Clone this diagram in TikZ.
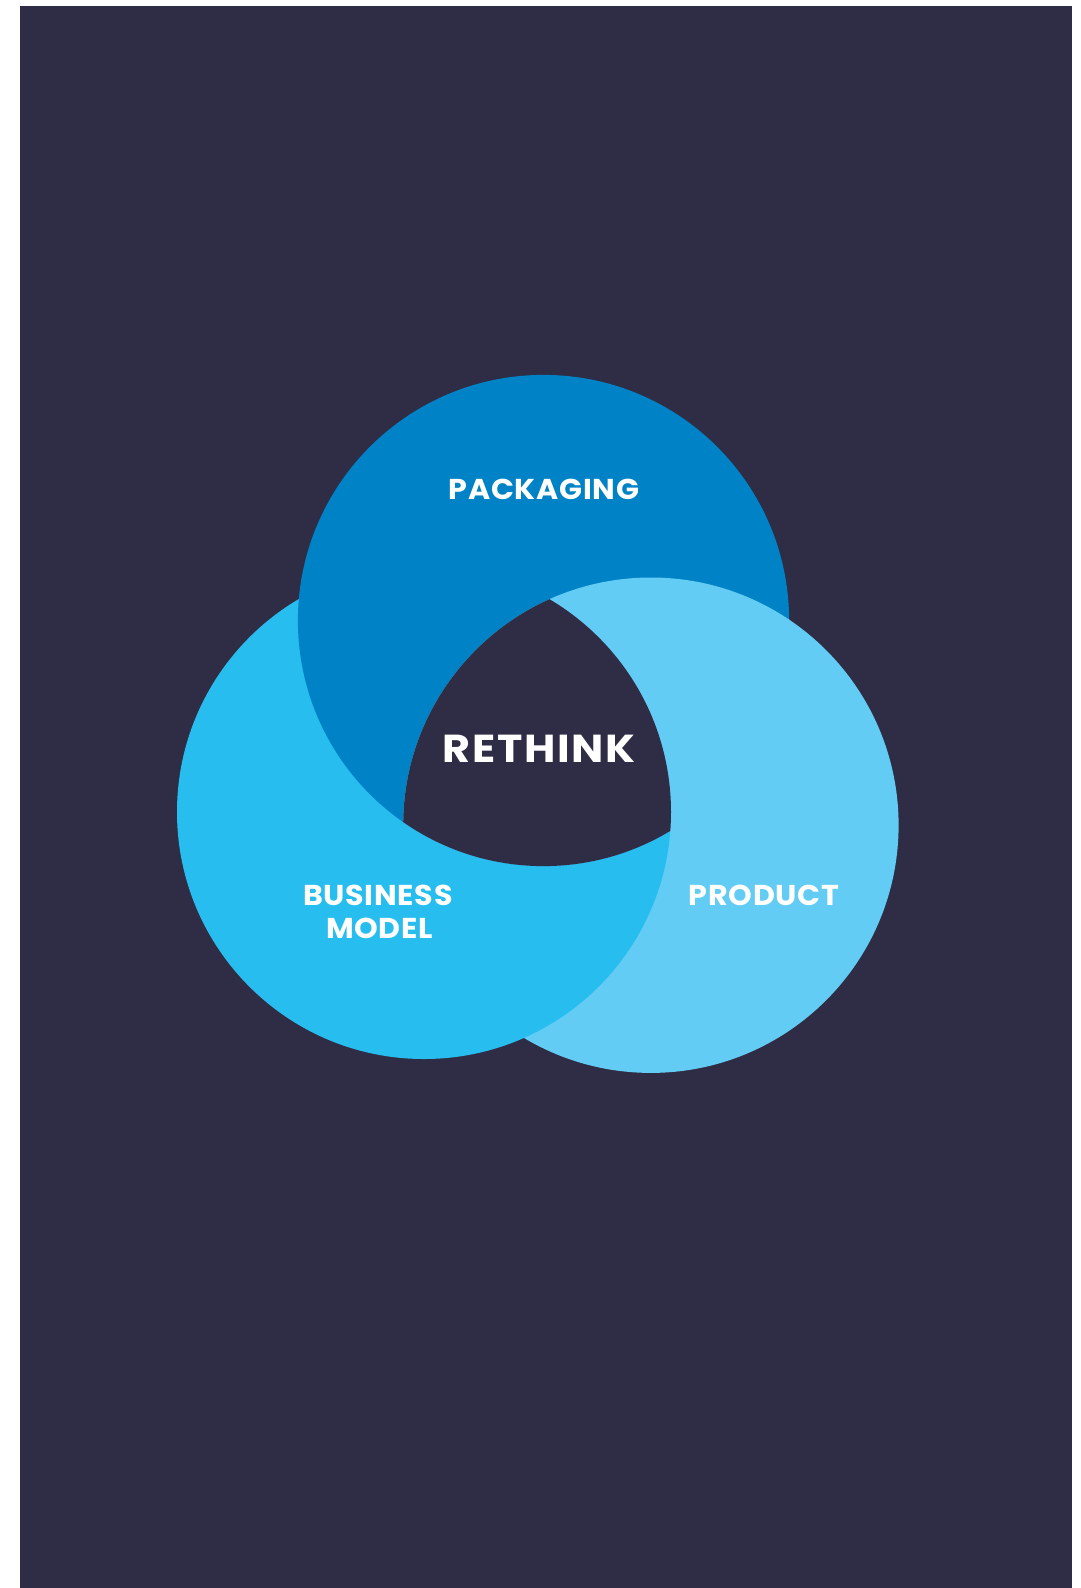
\documentclass[tikz,border=0pt]{standalone}
\usepackage{fontspec}
\setmainfont{Poppins}
\newfontfamily\lblfont{Poppins}[FakeStretch=1.05,LetterSpace=2.5]
\newfontfamily\bigfont{Poppins}[FakeStretch=1.1,LetterSpace=4.5]
\definecolor{bgc}{HTML}{2F2C45}
\definecolor{packc}{HTML}{0083C6}
\definecolor{busc}{HTML}{28BDEF}
\definecolor{prodc}{HTML}{63CCF4}
\begin{document}
\begin{tikzpicture}[x=1pt,y=-1pt,
  lbl/.style={text=white,font=\lblfont\bfseries\fontsize{28.7}{32.5}\selectfont,anchor=base,align=center,inner sep=0pt},
  big/.style={text=white,font=\bigfont\bfseries\fontsize{39}{44}\selectfont,anchor=base,inner sep=0pt}]
\fill[white] (0,0) rectangle (1081,1588);
\useasboundingbox (0,0) rectangle (1081,1588);
\fill[bgc] (20,6) rectangle (1072,1588);
\def\packpath{(543.5,620.5) circle[radius=245.6pt]}
\def\buspath{(424,812) circle[radius=247pt]}
\def\prodpath{(650.9,825.2) circle[radius=247.7pt]}
\fill[prodc] \prodpath;
\fill[busc] \buspath;
\fill[packc] \packpath;
\begin{scope}
  \clip \prodpath;
  \fill[prodc] \packpath;
\end{scope}
\begin{scope}[even odd rule]
  \clip \prodpath;
  \clip (0,0) rectangle (1081,1588) \buspath;
  \draw[prodc,line width=1.6pt] \packpath;
\end{scope}
\begin{scope}
  \clip \prodpath;
  \clip \buspath;
  \fill[bgc] \packpath;
\end{scope}
\node[lbl] (packaging) at (544,499.3) {PACKAGING};
\node[big] (rethink) at (539,762) {RETHINK};
\node[lbl] (business) at (378,905.5) {BUSINESS};
\node[lbl] (model) at (379.5,938) {MODEL};
\node[lbl] (product) at (764,905) {PRODUCT};
\end{tikzpicture}
\end{document}
